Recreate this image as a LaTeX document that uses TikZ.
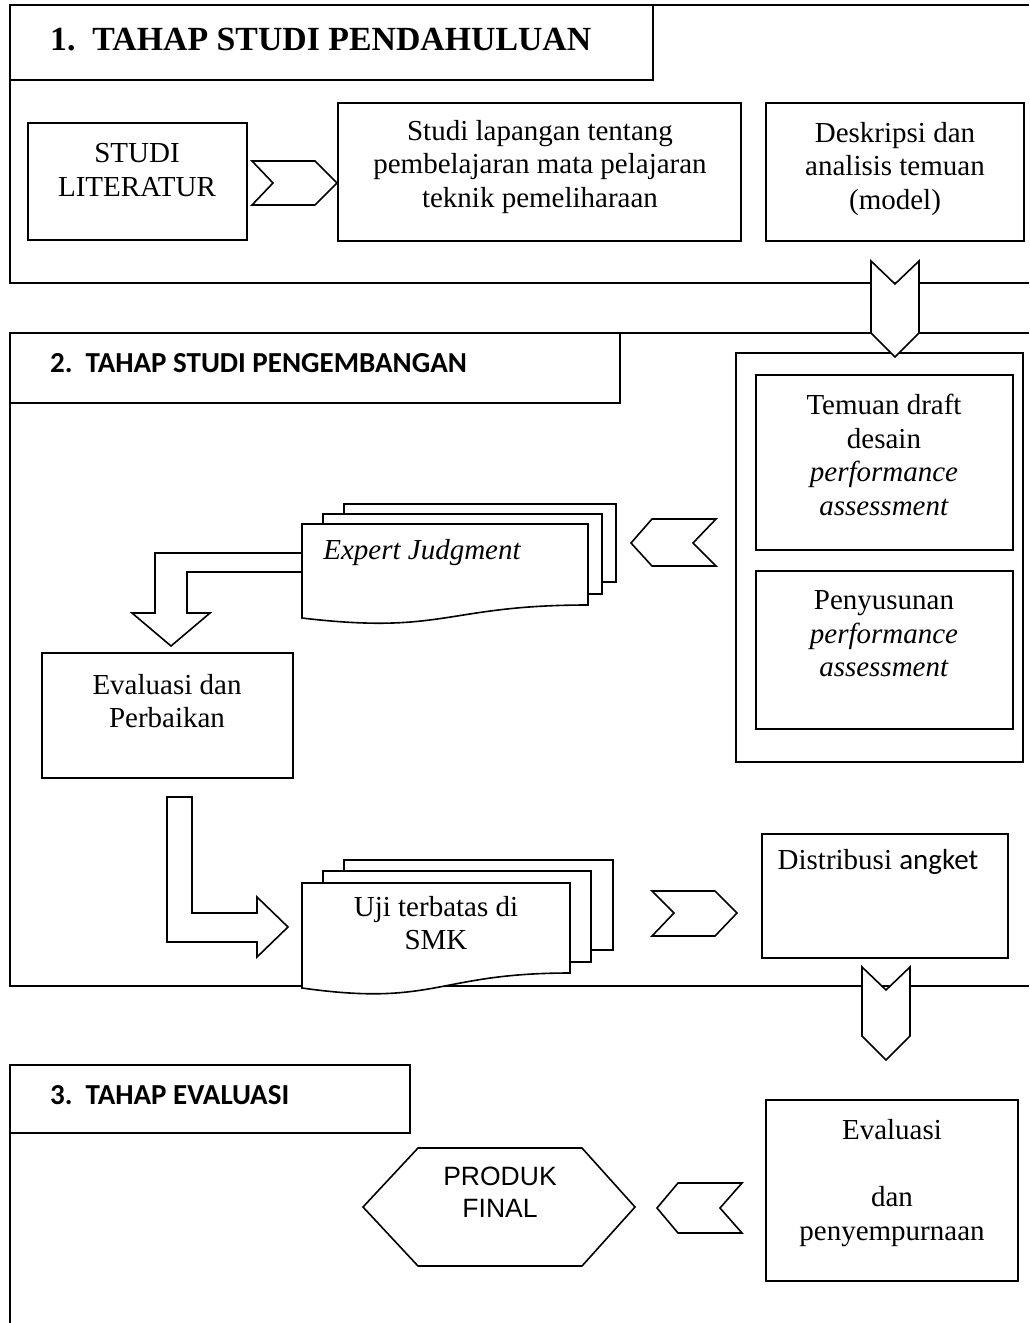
\documentclass[tikz,border=0pt]{standalone}
\usepackage{fontspec}
\setmainfont{Liberation Serif}
\newfontfamily\calibfont{Carlito}
\newfontfamily\arialfont{Liberation Sans}
\tikzset{
  frameline/.style={line width=1.6pt},
  boxnode/.style={draw, line width=1.6pt, anchor=north west, inner sep=0pt, outer sep=0pt},
  bodytext/.style={align=center, inner sep=0pt, font=\fontsize{29}{33.4}\selectfont},
  titletext/.style={anchor=base west, inner sep=0pt},
  blockarrow/.style={draw, fill=white, line width=1.6pt, line join=miter},
  sheet/.style={draw, fill=white, line width=1.6pt, line join=miter},
}
\begin{document}
\begin{tikzpicture}[x=1pt,y=-1pt]
\useasboundingbox (0,0) rectangle (1029,1323);

% ---------- Section 1 ----------
\draw[frameline] (1029,5) -- (10,5) -- (10,283) -- (1029,283);
\node[boxnode, minimum width=643pt, minimum height=75pt] (title1) at (10,5) {};
\node[titletext, font=\fontsize{33.8}{38}\selectfont\bfseries] (t1) at (50,50) {1.\hspace{0.5em}TAHAP STUDI PENDAHULUAN};

\node[boxnode, minimum width=219pt, minimum height=117pt] (lit) at (28,123) {};
\node[bodytext] (litt) at (137,170) {STUDI\\LITERATUR};
\node[boxnode, minimum width=403pt, minimum height=138pt] (lap) at (338,103) {};
\node[bodytext] (lapt) at (540,167) {Studi lapangan tentang\\pembelajaran mata pelajaran\\teknik pemeliharaan};
\node[boxnode, minimum width=258pt, minimum height=138pt] (desk) at (766,103) {};
\node[bodytext] (deskt) at (895,169) {Deskripsi dan\\analisis temuan\\(model)};

% chevron lit -> lap
\draw[blockarrow] (252,161) -- (315,161) -- (337,183) -- (315,205) -- (252,205) -- (273,183) -- cycle;

% ---------- Section 2 ----------
\draw[frameline] (1029,333) -- (10,333) -- (10,986) -- (1029,986);
\node[boxnode, minimum width=610pt, minimum height=70pt] (title2) at (10,333) {};
\node[titletext, font=\fontsize{29}{33}\calibfont\bfseries] (t2) at (50,372) {2.\hspace{0.45em}TAHAP STUDI PENGEMBANGAN};

\node[boxnode, minimum width=287pt, minimum height=409pt] (col) at (736,353) {};
\node[boxnode, minimum width=257pt, minimum height=175pt] (temuan) at (756,375) {};
\node[bodytext] (temuant) at (884,455) {Temuan draft\\desain\\\textit{performance}\\\textit{assessment}};
\node[boxnode, minimum width=257pt, minimum height=158pt] (susun) at (756,571) {};
\node[bodytext] (susunt) at (884,634) {Penyusunan\\\textit{performance}\\\textit{assessment}};

% down chevron section 1 -> column
\draw[blockarrow] (871,261) -- (895,284) -- (919,261) -- (919,333) -- (895,357) -- (871,333) -- cycle;

% left chevron column -> expert
\draw[blockarrow] (631,543) -- (652,519) -- (716,519) -- (693,543) -- (716,566) -- (652,566) -- cycle;

% bent arrow expert -> evaluasi
\draw[blockarrow] (155,553) -- (305,553) -- (305,572) -- (187,572) -- (187,613) -- (210,613) -- (171,646) -- (132,613) -- (155,613) -- cycle;

% expert judgment multi-document
\draw[sheet] (344,504) rectangle (616,582);
\draw[sheet] (323,514) rectangle (602,594);
\draw[sheet] (302,524) -- (588,524) -- (588,605) .. controls (445,605) and (445,635) .. (302,618) -- cycle;
\node[bodytext, font=\fontsize{29}{33.4}\selectfont\itshape] (expt) at (422,553) {Expert Judgment};

\node[boxnode, minimum width=251pt, minimum height=125pt] (evalp) at (42,653) {};
\node[bodytext] (evalpt) at (167,701) {Evaluasi dan\\Perbaikan};

% L arrow evaluasi -> uji
\draw[blockarrow] (167,797) -- (192,797) -- (192,913) -- (257,913) -- (257,897) -- (288,927) -- (257,957) -- (257,942) -- (167,942) -- cycle;

% uji multi-document
\draw[sheet] (344,860) rectangle (613,950);
\draw[sheet] (323,871) rectangle (591,962);
\draw[sheet] (302,883) -- (570,883) -- (570,973) .. controls (436,973) and (436,1007) .. (302,988) -- cycle;
\node[bodytext] (ujit) at (436,923) {Uji terbatas di\\SMK};

% chevron uji -> distribusi
\draw[blockarrow] (652,891) -- (715,891) -- (737,913) -- (715,936) -- (652,936) -- (674,913) -- cycle;

\node[boxnode, minimum width=246pt, minimum height=124pt] (dist) at (762,834) {};
\node[bodytext] (distt) at (878,862) {Distribusi {\calibfont angket}};

% down chevron section 2 -> section 3
\draw[blockarrow] (862,967) -- (886,990) -- (910,967) -- (910,1036) -- (886,1060) -- (862,1036) -- cycle;

% ---------- Section 3 ----------
\draw[frameline] (10,1065) -- (10,1323);
\node[boxnode, minimum width=400pt, minimum height=68pt] (title3) at (10,1065) {};
\node[titletext, font=\fontsize{29}{33}\calibfont\bfseries] (t3) at (50,1104) {3.\hspace{0.45em}TAHAP EVALUASI};

\node[boxnode, minimum width=252pt, minimum height=181pt] (evals) at (766,1100) {};
\node[bodytext] (evalst) at (892,1183) {Evaluasi\\[33.4pt]dan\\penyempurnaan};

% left chevron evaluasi -> produk
\draw[blockarrow] (657,1208) -- (678,1183) -- (742,1183) -- (720,1208) -- (742,1233) -- (678,1233) -- cycle;

% hexagon produk final
\draw[blockarrow] (363,1207) -- (418,1148) -- (582,1148) -- (635,1207) -- (582,1266) -- (418,1266) -- cycle;
\node[align=center, inner sep=0pt, font=\fontsize{26.5}{32}\arialfont] (prod) at (500,1192) {PRODUK\\FINAL};
\end{tikzpicture}
\end{document}
